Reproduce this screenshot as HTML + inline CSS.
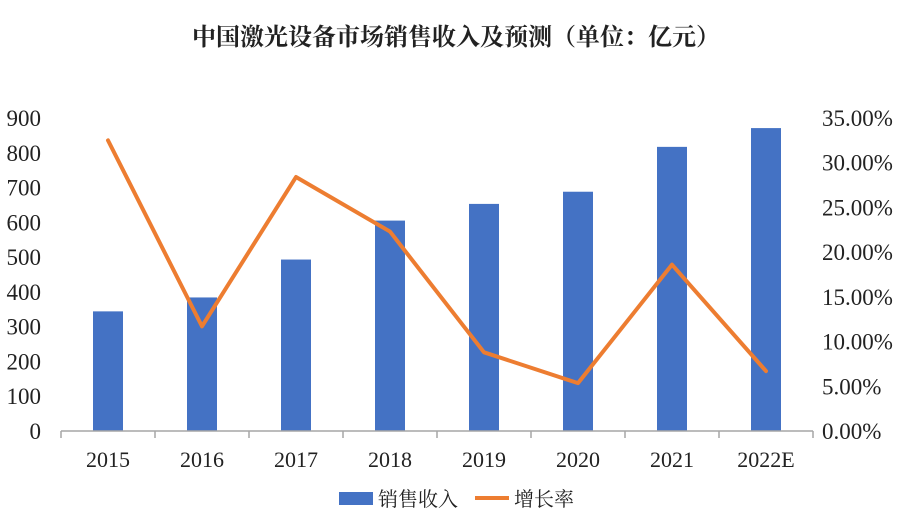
<!DOCTYPE html>
<html><head><meta charset="utf-8"><style>
body{margin:0;background:#fff;}
svg text{font-family:"Liberation Serif","Noto Serif CJK SC",serif;fill:#222;}
</style></head><body>
<svg id="c" width="913" height="520" xmlns="http://www.w3.org/2000/svg">
<text x="456" y="45" text-anchor="middle" font-size="24" font-weight="bold" style="font-family:'Liberation Serif','Noto Serif CJK SC',serif">中国激光设备市场销售收入及预测（单位：亿元）</text>
<g id="g"></g>
<g>
<rect x="339" y="492" width="34" height="13" fill="#4472C4"/>
<text x="378" y="506" font-size="20">销售收入</text>
<line x1="475" y1="498" x2="509" y2="498" stroke="#ED7D31" stroke-width="4"/>
<text x="514" y="506" font-size="20">增长率</text>
</g>
</svg>
<script>
const categories=["2015","2016","2017","2018","2019","2020","2021","2022E"];
const revenue=[344,384,493,605,653,688,817,871];
const growth=[32.5,11.7,28.4,22.3,8.8,5.35,18.6,6.7];
const leftTicks=[0,100,200,300,400,500,600,700,800,900];
const rightTicks=["0.00%","5.00%","10.00%","15.00%","20.00%","25.00%","30.00%","35.00%"];
const NS="http://www.w3.org/2000/svg";
const g=document.getElementById('g');
const x0=61,cw=94,y0=431,yTop=118;
const yL=v=>y0-(v/900)*(y0-yTop);
const yR=v=>y0-(v/35)*(y0-yTop);
const xc=i=>x0+cw*(i+0.5);
function mk(t,a){const e=document.createElementNS(NS,t);for(const k in a)e.setAttribute(k,a[k]);g.appendChild(e);return e;}
leftTicks.forEach(v=>{const t=mk('text',{x:41,y:yL(v)+8,'text-anchor':'end','font-size':23});t.textContent=v;

});
rightTicks.forEach((s,i)=>{const t=mk('text',{x:822,y:yR(i*5)+8,'font-size':23});t.textContent=s;

});
revenue.forEach((v,i)=>{const r=mk('rect',{x:xc(i)-15,y:yL(v),width:30,height:y0-yL(v),fill:'#4472C4'});

});
const ax=mk('line',{x1:x0,y1:y0,x2:x0+cw*8,y2:y0,stroke:'#a6a6a6','stroke-width':1.5});


for(let i=0;i<=8;i++){const tk=mk('line',{x1:x0+cw*i,y1:y0,x2:x0+cw*i,y2:y0+7,stroke:'#a6a6a6','stroke-width':1.5});

}
categories.forEach((c,i)=>{const t=mk('text',{x:xc(i),y:467,'text-anchor':'middle','font-size':22});t.textContent=c;

});
const p=mk('polyline',{points:growth.map((v,i)=>xc(i)+','+yR(v)).join(' '),fill:'none',stroke:'#ED7D31','stroke-width':4,'stroke-linejoin':'round','stroke-linecap':'round'});


</script>
</body></html>
